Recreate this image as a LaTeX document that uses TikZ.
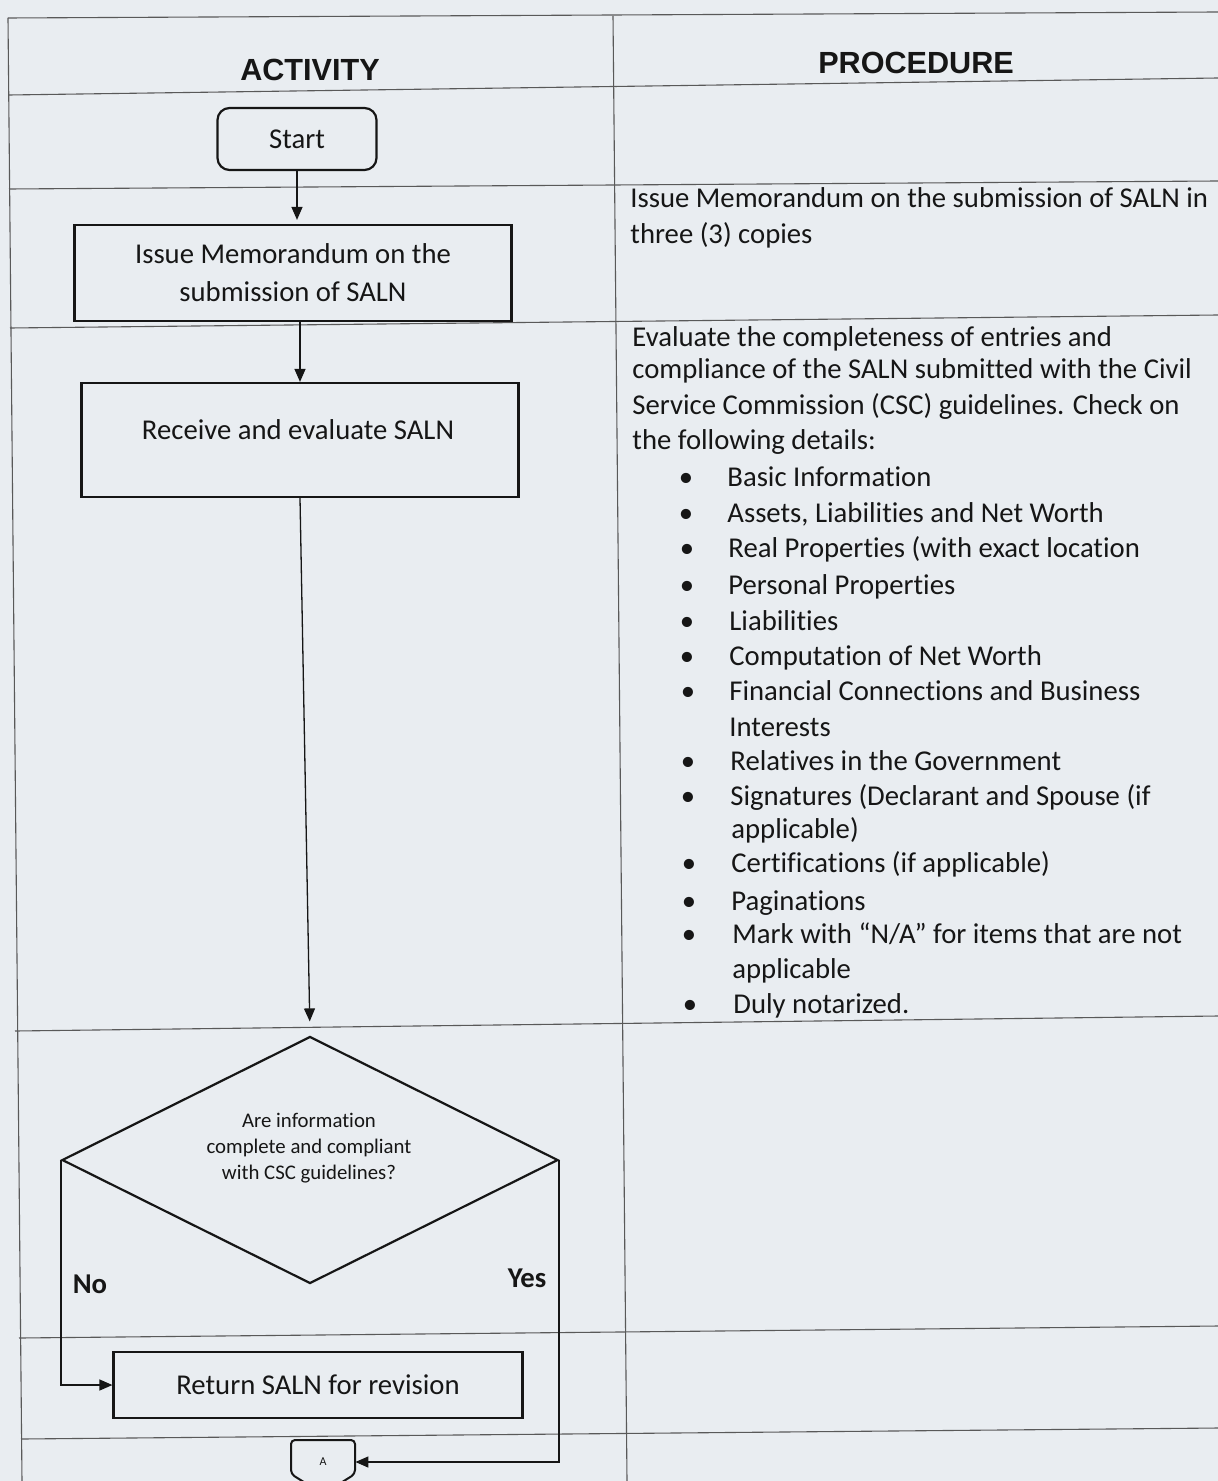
\documentclass[tikz,border=0pt]{standalone}
\usepackage{fontspec}
\setmainfont{Carlito}[Ligatures={NoCommon,NoContextual}]
\newfontfamily\myHdrFont{Liberation Sans}
\usetikzlibrary{shapes.geometric,arrows.meta}
\definecolor{paper}{RGB}{233,237,241}
\definecolor{ink}{RGB}{22,22,22}
\newcommand\myBody{\fontsize{14.35}{19}\selectfont}
\newcommand\mySmall{\fontsize{10.4}{13}\selectfont}
\begin{document}
\begin{tikzpicture}[x=0.5pt,y=-0.5pt,
  tbl/.style={draw=black!65,line width=0.55pt},
  hdr/.style={font=\myHdrFont\bfseries\fontsize{15.3}{18}\selectfont,text=ink},
  box/.style={draw=ink,line width=1.1pt,font=\myBody,text=ink,align=center,inner sep=0pt},
  txt/.style={font=\myBody,text=ink,inner sep=0pt},
  proc/.style={font=\myBody,text=ink,anchor=base west,inner sep=0pt},
  bul/.style={font=\myBody,text=ink,anchor=base,inner sep=0pt},
  lbl/.style={font=\myBody\bfseries,text=ink,inner sep=0pt},
  arr/.style={draw=ink,line width=0.65pt,-{Triangle[length=6.5pt,width=5.5pt]}}]
\useasboundingbox (0,0) rectangle (1218,1481);
\clip (0,0) rectangle (1218,1481);
\fill[paper] (0,0) rectangle (1218,1481);

% table grid
\draw[tbl] (8,18) -- (1218,12);
\draw[tbl] (8,18) -- (22,1481);
\draw[tbl] (613,16) -- (627,1481);
\draw[tbl] (9,95) -- (1218,78);
\draw[tbl] (9,189) -- (1218,181);
\draw[tbl] (10,328) -- (1218,315);
\draw[tbl] (15,1031) -- (1218,1016);
\draw[tbl] (19,1338) -- (1218,1326);
\draw[tbl] (21,1439) -- (1218,1428);

% headers
\node[hdr] (hA) at (310,70) {ACTIVITY};
\node[hdr] (hP) at (916,63) {PROCEDURE};

% flowchart nodes
\node[box,rounded corners=6pt,minimum width=79.5pt,minimum height=31pt] (start) at (297,139) {Start};
\node[box,minimum width=218.5pt,minimum height=48pt] (memo) at (293,273) {Issue Memorandum on the\\submission of SALN};
\node[box,minimum width=218.5pt,minimum height=57pt] (recv) at (300,440) {};
\node[txt] (recvt) at (298,430) {Receive and evaluate SALN};
\node[diamond,draw=ink,line width=1.1pt,minimum width=248pt,minimum height=123.5pt,inner sep=0pt] (dec) at (310,1160) {};
\node[txt,font=\mySmall,align=center] (dect) at (309,1148) {Are information\\complete and compliant\\with CSC guidelines?};
\node[box,minimum width=204.5pt,minimum height=33pt] (ret) at (318,1385) {Return SALN for revision};
\node[txt,font=\fontsize{6}{7}\selectfont,minimum width=32pt,minimum height=22pt] (conA) at (323,1462) {A};
\draw[draw=ink,line width=1pt,rounded corners=2pt] (291,1440) -- (355,1440) -- (355,1474) -- (323,1494) -- (291,1474) -- cycle;

\node[lbl] (no) at (90,1284) {No};
\node[lbl] (yes) at (527,1278) {Yes};

% connectors
\draw[arr,shorten >=2pt] (start.south) -- (start.south |- memo.north);
\draw[arr] (recv.north |- memo.south) -- (recv.north);
\draw[arr,shorten >=7pt] (recv.south) -- (dec.north);
\draw[arr] (dec.west) -- (dec.west |- ret.west) -- (ret.west);
\draw[arr] (dec.east) -- (dec.east |- conA.east) -- (conA.east);

% procedure column
\node[proc] (p1a) at (630,208) {Issue Memorandum on the submission of SALN in};
\node[proc] (p1b) at (630,244) {three (3) copies};
\node[proc] (p2a) at (632,346) {Evaluate the completeness of entries and};
\node[proc] (p2b) at (632,379) {compliance of the SALN submitted with the Civil};
\node[proc] (p2c) at (632,414) {Service Commission (CSC) guidelines. Check on};
\node[proc] (p2d) at (632,449) {the following details:};

\node[bul] (b1) at (686,486) {•};  \node[proc] (t1) at (727,486) {Basic Information};
\node[bul] (b2) at (686,522) {•};  \node[proc] (t2) at (727,522) {Assets, Liabilities and Net Worth};
\node[bul] (b3) at (687,557) {•};  \node[proc] (t3) at (728,557) {Real Properties (with exact location};
\node[bul] (b4) at (687,594) {•};  \node[proc] (t4) at (728,594) {Personal Properties};
\node[bul] (b5) at (687,630) {•};  \node[proc] (t5) at (729,630) {Liabilities};
\node[bul] (b6) at (687,665) {•};  \node[proc] (t6) at (729,665) {Computation of Net Worth};
\node[bul] (b7) at (688,700) {•};  \node[proc] (t7) at (729,700) {Financial Connections and Business};
                                   \node[proc] (t7b) at (729,736) {Interests};
\node[bul] (b8) at (688,770) {•};  \node[proc] (t8) at (730,770) {Relatives in the Government};
\node[bul] (b9) at (688,805) {•};  \node[proc] (t9) at (730,805) {Signatures (Declarant and Spouse (if};
                                   \node[proc] (t9b) at (731,838) {applicable)};
\node[bul] (b10) at (689,872) {•}; \node[proc] (t10) at (731,872) {Certifications (if applicable)};
\node[bul] (b11) at (689,910) {•}; \node[proc] (t11) at (731,910) {Paginations};
\node[bul] (b12) at (689,943) {•}; \node[proc] (t12) at (732,943) {Mark with “N/A” for items that are not};
                                   \node[proc] (t12b) at (732,978) {applicable};
\node[bul] (b13) at (690,1013) {•}; \node[proc] (t13) at (733,1013) {Duly notarized.};
\end{tikzpicture}
\end{document}
